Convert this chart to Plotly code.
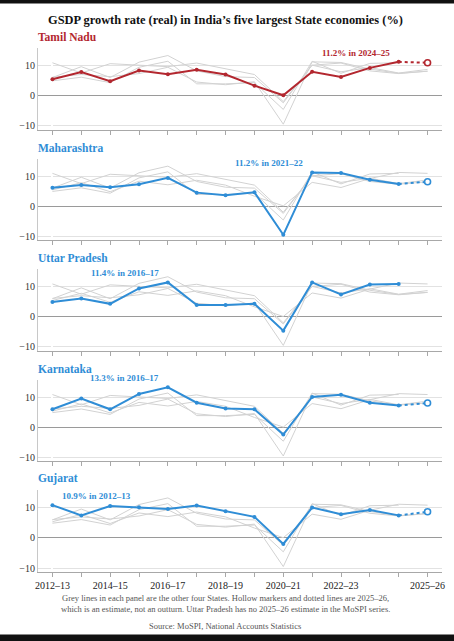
import plotly.graph_objects as go
from plotly.subplots import make_subplots

years = ["2012–13", "2013–14", "2014–15", "2015–16", "2016–17", "2017–18", "2018–19",
         "2019–20", "2020–21", "2021–22", "2022–23", "2023–24", "2024–25", "2025–26"]
tick_labels = ["2012–13", "", "2014–15", "", "2016–17", "", "2018–19",
               "", "2020–21", "", "2022–23", "", "", "2025–26"]

tamil_nadu = [5.4, 7.8, 4.8, 8.3, 7.1, 8.6, 7.0, 3.3, 0.1, 7.9, 6.2, 9.2, 11.2, 10.9]
maharashtra = [6.1, 7.0, 6.3, 7.3, 9.4, 4.5, 3.6, 4.6, -9.5, 11.2, 11.0, 8.8, 7.4, 8.1]
uttar_pradesh = [4.9, 6.1, 4.3, 9.4, 11.4, 3.9, 3.9, 4.3, -4.6, 11.4, 7.4, 10.7, 10.9, None]
karnataka = [6.0, 9.6, 6.0, 11.1, 13.3, 8.2, 6.3, 6.0, -2.4, 10.1, 10.8, 8.2, 7.3, 8.1]
gujarat = [10.9, 7.5, 10.6, 10.2, 9.6, 10.8, 8.9, 7.0, -2.0, 10.1, 7.9, 9.3, 7.5, 8.7]

states = ["Tamil Nadu", "Maharashtra", "Uttar Pradesh", "Karnataka", "Gujarat"]
series = [tamil_nadu, maharashtra, uttar_pradesh, karnataka, gujarat]
colors = ["#b3272f", "#2f8dd6", "#2f8dd6", "#2f8dd6", "#2f8dd6"]
# label for each panel: (index of year, text, side)
callouts = [(12, "11.2% in 2024–25", "right"), (9, "11.2% in 2021–22", "right"),
            (4, "11.4% in 2016–17", "right"), (4, "13.3% in 2016–17", "right"),
            (0, "10.9% in 2012–13", "left")]

FONT = "Liberation Serif"
x = list(range(len(years)))

fig = make_subplots(rows=5, cols=1, vertical_spacing=0.0553)

for i, (name, vals) in enumerate(zip(states, series)):
    row = i + 1
    # other four states in grey
    for j, other in enumerate(series):
        if j == i:
            continue
        fig.add_trace(go.Scatter(x=x, y=other, mode="lines", line=dict(color="#d2d2d2", width=1),
                                 hoverinfo="skip"), row=row, col=1)
    col = colors[i]
    fig.add_trace(go.Scatter(x=x[:13], y=vals[:13], mode="lines+markers",
                             line=dict(color=col, width=2), marker=dict(size=4, color=col)),
                  row=row, col=1)
    if vals[13] is not None:
        fig.add_trace(go.Scatter(x=x[12:], y=vals[12:], mode="lines", line=dict(color=col, width=2, dash="dot")),
                      row=row, col=1)
        fig.add_trace(go.Scatter(x=[x[13]], y=[vals[13]], mode="markers",
                                 marker=dict(size=6, color="white", line=dict(color=col, width=1.6))),
                      row=row, col=1)
    xa = "x" if row == 1 else "x%d" % row
    ya = "y" if row == 1 else "y%d" % row
    fig.add_annotation(text="<b>%s</b>" % name, xref=xa + " domain", yref=ya + " domain", x=0, y=1,
                       xanchor="left", yanchor="bottom", yshift=3, xshift=-2, showarrow=False,
                       font=dict(family=FONT, size=11.5, color=col))
    k, txt, side = callouts[i]
    fig.add_annotation(text="<b>%s</b>" % txt, xref=xa, yref=ya, x=k, y=vals[k], showarrow=False,
                       xanchor="right" if side == "right" else "left", yanchor="bottom",
                       xshift=-7 if side == "right" else 8, yshift=2,
                       font=dict(family=FONT, size=9, color=col))
    fig.update_yaxes(range=[-11.3, 15.8], tickvals=[-10, 0, 10], showgrid=True, gridcolor="#e2e2e2",
                     zeroline=True, zerolinecolor="#9a9a9a", zerolinewidth=1.2,
                     showline=True, linecolor="#c8c8c8", linewidth=1, ticks="",
                     tickfont=dict(family=FONT, size=10, color="#333"), row=row, col=1)
    fig.update_xaxes(range=[-0.5, 13.5], tickvals=x, ticktext=tick_labels, showgrid=False,
                     showline=True, linecolor="#a8a8a8", linewidth=1, ticks="outside", ticklen=4,
                     tickcolor="#a8a8a8", showticklabels=(row == 5),
                     tickfont=dict(family=FONT, size=10, color="#222"), row=row, col=1)

fig.add_annotation(text="<b>GSDP growth rate (real) in India’s five largest State economies (%)</b>",
                   xref="paper", yref="paper", x=0.464, y=1.0, yshift=28, xanchor="center", yanchor="middle",
                   showarrow=False, font=dict(family=FONT, size=12.4, color="#111"))
fig.add_annotation(text="Grey lines in each panel are the other four States. Hollow markers and dotted lines are 2025–26,"
                        "<br>which is an estimate, not an outturn. Uttar Pradesh has no 2025–26 estimate in the MoSPI series.",
                   xref="paper", yref="paper", x=0.464, y=0, yshift=-31, xanchor="center", yanchor="middle",
                   showarrow=False, font=dict(family=FONT, size=8.5, color="#555"))
fig.add_annotation(text="Source: MoSPI, National Accounts Statistics", xref="paper", yref="paper",
                   x=0.464, y=0, yshift=-54, xanchor="center", yanchor="middle", showarrow=False,
                   font=dict(family=FONT, size=8.5, color="#555"))

# dark rules at top and bottom of the graphic (blank boxes with a dark fill)
fig.add_annotation(text=" ", xref="paper", yref="paper", x=0.4644, y=1.0, yshift=46.5,
                   xanchor="center", yanchor="middle", showarrow=False, width=470, height=3,
                   bgcolor="#111", borderpad=0, font=dict(size=1))
fig.add_annotation(text=" ", xref="paper", yref="paper", x=0.4644, y=0, yshift=-66,
                   xanchor="center", yanchor="middle", showarrow=False, width=470, height=6,
                   bgcolor="#111", borderpad=0, font=dict(size=1))

fig.update_layout(width=454, height=641, margin=dict(l=38, r=9, t=48, b=69),
                  plot_bgcolor="white", paper_bgcolor="white", showlegend=False)

fig.write_html("out.html", config={"displayModeBar": False},
               post_script="document.body.style.margin='0';")
